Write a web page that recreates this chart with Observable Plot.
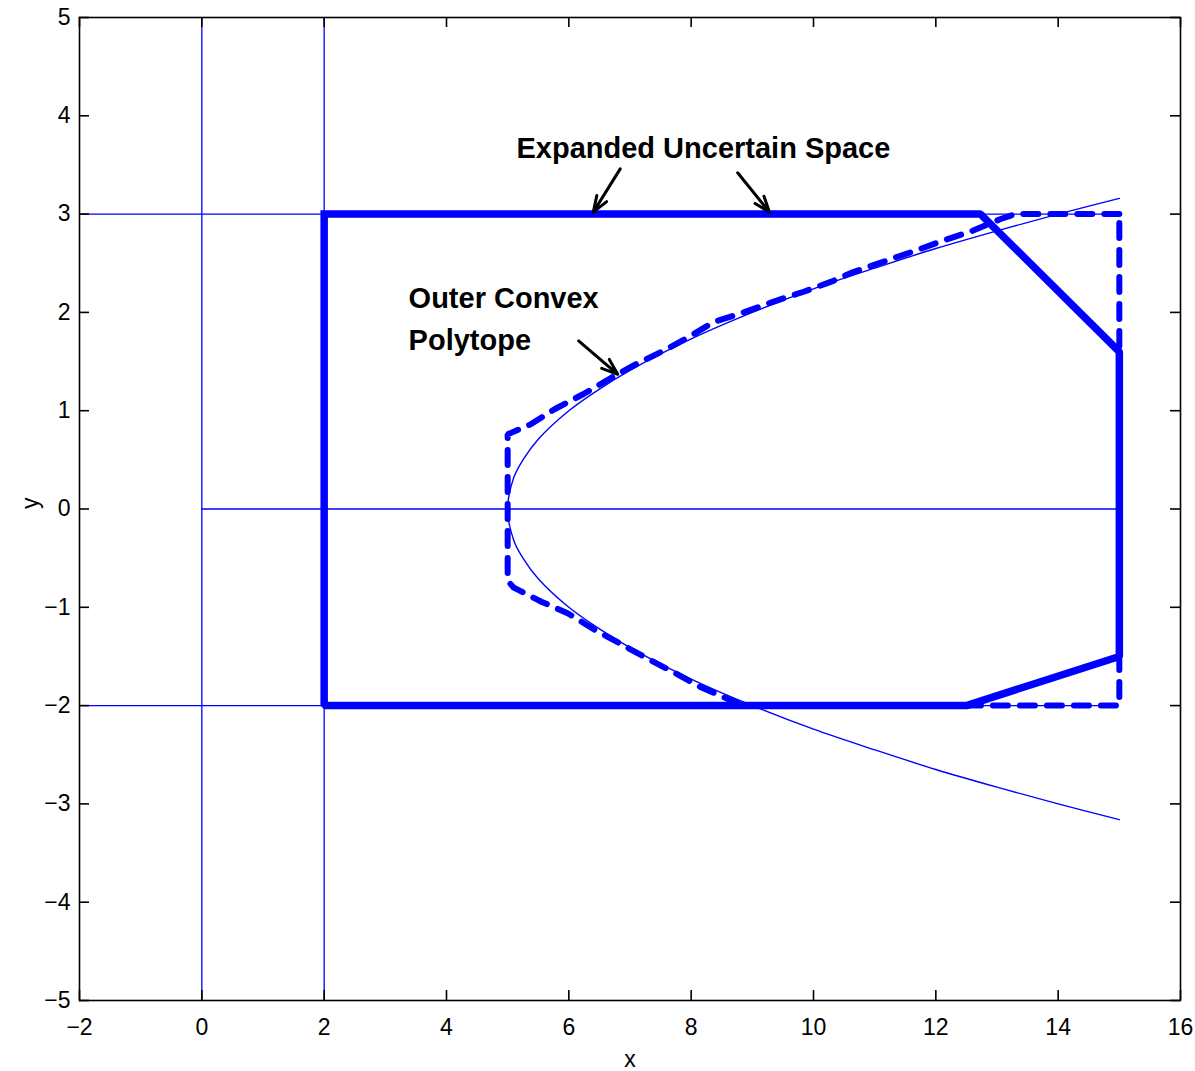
<!DOCTYPE html>
<html>
<head>
<meta charset="utf-8">
<script src="https://cdn.jsdelivr.net/npm/d3@7"></script>
<script src="https://cdn.jsdelivr.net/npm/@observablehq/plot@0.6"></script>
<style>
  html, body { margin: 0; padding: 0; background: #fff; }
  #chart { width: 1195px; height: 1071px; }
</style>
</head>
<body>
<div id="chart"></div>
<script>
// ---- data ----
const xTicks = [-2, 0, 2, 4, 6, 8, 10, 12, 14, 16];
const yTicks = [-5, -4, -3, -2, -1, 0, 1, 2, 3, 4, 5];
const xDomain = [-2, 16];
const yDomain = [-5, 5];
const xLabel = "x";
const yLabel = "y";

// thin reference lines
const vLineX = [0, 2];
const hLines = [
  {y: 3, x1: -2, x2: 15},
  {y: -2, x1: -2, x2: 15},
  {y: 0, x1: 0, x2: 15}
];

// thin curve
const curveX = [15, 14, 13, 12, 11, 10, 9, 8, 7, 6.5, 6, 5.5, 5.25, 5.1, 5, 5.1, 5.25, 5.5, 6, 6.5, 7, 8, 9, 10, 11, 12, 13, 14, 15];
const curveY = [3.16, 3, 2.83, 2.65, 2.45, 2.24, 2, 1.73, 1.41, 1.22, 1, 0.71, 0.5, 0.32, 0, -0.32, -0.5, -0.71, -1, -1.22, -1.41, -1.73, -2, -2.24, -2.45, -2.65, -2.83, -3, -3.16];

// outer convex polytope (dashed)
const polyX = [15, 13.3, 13.06, 12.6, 12.12, 11.63, 10.65, 10.28, 9.84, 9.35, 8.86, 8.36, 7.99, 7.55, 7.12, 6.68, 6.24, 5.78, 5.37, 5.0, 5.0, 5.1, 5.54, 5.98, 6.4, 6.84, 7.25, 7.71, 8.15, 8.59, 8.85, 12.5, 15, 15];
const polyY = [3, 3, 2.95, 2.83, 2.73, 2.62, 2.41, 2.31, 2.21, 2.11, 2.0, 1.90, 1.76, 1.61, 1.48, 1.33, 1.17, 1.02, 0.86, 0.76, -0.73, -0.8, -0.94, -1.06, -1.22, -1.37, -1.51, -1.66, -1.81, -1.93, -2.0, -2, -2, 3];

// expanded uncertain space (thick solid)
const boxX = [2, 12.73, 15, 15, 12.5, 2, 2];
const boxY = [3, 3, 1.6, -1.5, -2, -2, 3];

// annotations
const titleLabel = [{x: 8.2, y: 3.67, text: "Expanded Uncertain Space"}];
const sideLabels = [
  {x: 3.38, y: 2.14, text: "Outer Convex"},
  {x: 3.38, y: 1.71, text: "Polytope"}
];
const arrows = [
  {x1: 6.84, y1: 3.46, x2: 6.40, y2: 3.02},
  {x1: 8.76, y1: 3.42, x2: 9.28, y2: 3.02},
  {x1: 6.16, y1: 1.71, x2: 6.80, y2: 1.37}
];

// ---- build ----
const curve = curveX.map((x, i) => ({x, y: curveY[i]}));
const poly = polyX.map((x, i) => ({x, y: polyY[i]}));
const box = boxX.map((x, i) => ({x, y: boxY[i]}));
const blue = "#0000ff";
const tickLenX = 10 / ((1195 - 79 - 15) / 18); // ~10px in x units
const tickLenY = 10 / ((1071 - 17 - 71) / 10); // ~10px in y units
const annFont = {fontSize: 29, fontWeight: "bold", fill: "#000"};

const chart = Plot.plot({
  width: 1195,
  height: 1071,
  marginLeft: 79,
  marginRight: 15,
  marginTop: 17,
  marginBottom: 71,
  style: {fontFamily: "'Liberation Sans', Arial, Helvetica, sans-serif", background: "#fff", color: "#000"},
  x: {domain: xDomain},
  y: {domain: yDomain},
  marks: [
    Plot.ruleX(vLineX, {x: d => d, y1: yDomain[0], y2: yDomain[1], stroke: blue, strokeWidth: 1.3}),
    Plot.ruleY(hLines, {y: "y", x1: "x1", x2: "x2", stroke: blue, strokeWidth: 1.3}),
    Plot.line(curve, {x: "x", y: "y", curve: "catmull-rom", stroke: blue, strokeWidth: 1.4}),
    Plot.line(poly, {x: "x", y: "y", stroke: blue, strokeWidth: 6, strokeDasharray: "15,12", strokeLinejoin: "miter"}),
    Plot.line(box, {x: "x", y: "y", stroke: blue, strokeWidth: 7.5, strokeLinejoin: "miter", strokeLinecap: "square"}),
    Plot.arrow(arrows, {x1: "x1", y1: "y1", x2: "x2", y2: "y2", stroke: "#000", strokeWidth: 3, headLength: 14, headAngle: 40}),
    Plot.text(titleLabel, {x: "x", y: "y", text: "text", textAnchor: "middle", ...annFont}),
    Plot.text(sideLabels, {x: "x", y: "y", text: "text", textAnchor: "start", ...annFont}),
    Plot.frame({stroke: "#000", strokeWidth: 1.6}),
    // inward ticks on all four sides
    Plot.ruleX(xTicks, {x: d => d, y1: yDomain[0], y2: yDomain[0] + tickLenY, stroke: "#000", strokeWidth: 1.6}),
    Plot.ruleX(xTicks, {x: d => d, y1: yDomain[1], y2: yDomain[1] - tickLenY, stroke: "#000", strokeWidth: 1.6}),
    Plot.ruleY(yTicks, {y: d => d, x1: xDomain[0], x2: xDomain[0] + tickLenX, stroke: "#000", strokeWidth: 1.6}),
    Plot.ruleY(yTicks, {y: d => d, x1: xDomain[1], x2: xDomain[1] - tickLenX, stroke: "#000", strokeWidth: 1.6}),
    Plot.axisX(xTicks, {tickSize: 0, tickPadding: 18, fontSize: 23, tickFormat: d3.format(""), label: null}),
    Plot.axisY(yTicks, {tickSize: 0, tickPadding: 9, fontSize: 23, tickFormat: d3.format(""), label: null}),
    Plot.text([xLabel], {text: d => d, frameAnchor: "bottom", dy: 66, fontSize: 23, fill: "#000"}),
    Plot.text([yLabel], {text: d => d, frameAnchor: "left", dx: -49, rotate: -90, fontSize: 23, fill: "#000"})
  ]
});
document.getElementById("chart").appendChild(chart);
</script>
</body>
</html>
